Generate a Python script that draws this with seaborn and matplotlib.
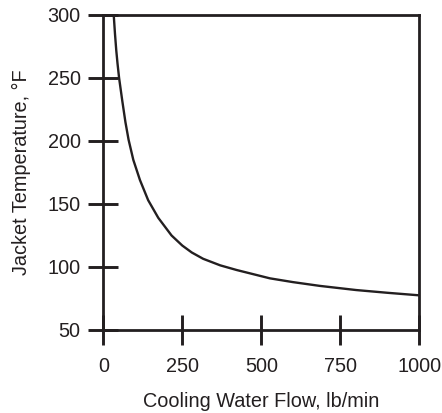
import matplotlib
matplotlib.use("Agg")
import matplotlib.pyplot as plt
import seaborn as sns
import pandas as pd

# Data
flow = [33, 37, 41, 45, 50, 60, 70, 80, 95, 116, 142, 174, 216, 250, 280, 316, 370, 422, 527, 600, 685, 800, 900, 1000]
temp = [300, 285, 272, 261.5, 250, 232, 215, 201, 185, 169, 153, 139, 125, 117, 111.5, 106.5, 101.3, 97.6, 91, 88, 85, 81.7, 79.5, 77.5]
x_ticks = [0, 250, 500, 750, 1000]
y_ticks = [50, 100, 150, 200, 250, 300]

df = pd.DataFrame({"flow": flow, "temp": temp})

sns.set_theme(style="ticks")
plt.rcParams["font.family"] = ["Liberation Sans", "DejaVu Sans"]

ink = "#231f20"
fs = 14.3
fig = plt.figure(figsize=(4.42, 4.13), dpi=100)
ax = fig.add_axes([0.2337, 0.201, 0.7150, 0.7627])

sns.lineplot(data=df, x="flow", y="temp", sort=False, color=ink, linewidth=1.7, ax=ax)

ax.set_xlim(0, 1000)
ax.set_ylim(50, 300)
ax.set_xticks(x_ticks)
ax.set_yticks(y_ticks)
for s in ax.spines.values():
    s.set_visible(True)
    s.set_linewidth(2.0)
    s.set_color(ink)
ax.tick_params(direction="inout", length=21.6, width=2.1, color=ink,
               labelcolor=ink, labelsize=fs)
ax.tick_params(axis="x", pad=9.0)
ax.tick_params(axis="y", pad=5.5)
ax.set_xlabel("Cooling Water Flow, lb/min", fontsize=fs, color=ink, labelpad=11)
ax.set_ylabel("Jacket Temperature, °F", fontsize=fs, color=ink, labelpad=12)

fig.savefig("out.png", dpi=100)
